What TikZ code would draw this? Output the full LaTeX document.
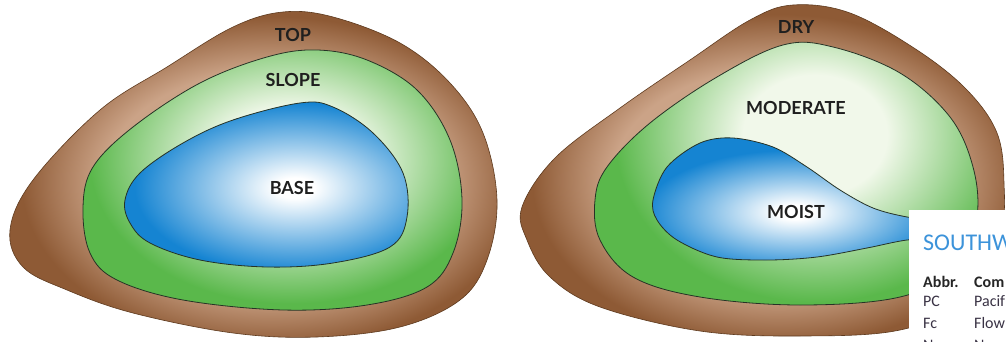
\documentclass[tikz,border=0pt]{standalone}
\usepackage{fontspec}
\setmainfont{Lato}
\newfontfamily\tabfont{Carlito}
\definecolor{soilbrown}{HTML}{8E5A35}
\definecolor{soiltan}{HTML}{CBA387}
\definecolor{leafgreen}{HTML}{5AB84B}
\definecolor{leafpale}{HTML}{F1F8EA}
\definecolor{waterblue}{HTML}{1584D2}
\definecolor{edgeline}{HTML}{263326}
\definecolor{soilline}{HTML}{5E3A1E}
\definecolor{titleblue}{HTML}{3C93DA}
\definecolor{tabtext}{HTML}{3A3345}
\pgfdeclareradialshading{soilshade}{\pgfpoint{0bp}{0bp}}{color(0bp)=(soiltan); color(11.3bp)=(soiltan); color(16.7bp)=(soilbrown); color(50bp)=(soilbrown)}
\pgfdeclareradialshading{leafshade}{\pgfpoint{0bp}{0bp}}{color(0bp)=(leafpale); color(6bp)=(leafpale); color(16.7bp)=(leafgreen); color(50bp)=(leafgreen)}
\pgfdeclareradialshading{watershade}{\pgfpoint{0bp}{0bp}}{color(0bp)=(white); color(2bp)=(white); color(16.7bp)=(waterblue); color(50bp)=(waterblue)}
\tikzset{
  soilzone/.style={draw=soilline, line width=0.6pt},
  leafzone/.style={draw=edgeline, line width=0.8pt},
  waterzone/.style={draw=edgeline, line width=0.8pt},
  zonelabel/.style={font=\bfseries\fontsize{18}{18}\selectfont, text=black!88, inner sep=0pt},
  tabtitle/.style={font=\tabfont\fontsize{24}{24}\selectfont, text=titleblue, inner sep=0pt, anchor=base west},
  tabhead/.style={font=\tabfont\bfseries\fontsize{16}{16}\selectfont, text=black!85, inner sep=0pt, anchor=base west},
  tabcell/.style={font=\tabfont\fontsize{16}{16}\selectfont, text=tabtext, inner sep=0pt, anchor=base west},
}
\begin{document}
\begin{tikzpicture}[x=1pt,y=-1pt]
\useasboundingbox (0,0) rectangle (1006,342);
\clip (0,0) rectangle (1006,342);
\fill[white] (0,0) rectangle (1006,342);

% ---------- left diagram ----------
\path[soilzone, path picture={\shade[shading=soilshade] (272,182) ellipse [x radius=375pt, y radius=248pt];}]
  plot[smooth cycle, tension=0.6] coordinates {(10,230) (33,180) (100,110) (167,67) (233,27) (283,12) (333,17) (400,43) (450,83) (483,133) (497,200) (487,260) (460,300) (400,327) (317,337) (233,333) (133,313) (67,290) (23,267)};
\path[leafzone, path picture={\shade[shading=leafshade] (290,160) ellipse [x radius=300pt, y radius=215pt];}]
  plot[smooth cycle, tension=0.6] coordinates {(83,207) (93,167) (133,127) (200,83) (267,57) (317,50) (367,60) (417,90) (450,140) (462,200) (453,253) (427,287) (367,305) (283,310) (183,300) (117,280) (90,253)};
\path[waterzone, path picture={\shade[shading=watershade] (295,188) ellipse [x radius=240pt, y radius=128pt];}]
  plot[smooth cycle, tension=0.6] coordinates {(125,200) (140,173) (183,143) (233,120) (300,103) (333,107) (373,133) (403,173) (407,217) (390,247) (333,263) (267,267) (200,260) (150,243) (130,223)};
\node[zonelabel] (top) at (293,35) {TOP};
\node[zonelabel] (slope) at (293,80) {SLOPE};
\node[zonelabel] (base) at (292,188) {BASE};

% ---------- right diagram ----------
\path[soilzone, path picture={\shade[shading=soilshade] (778,180) ellipse [x radius=368pt, y radius=248pt];}]
  plot[smooth cycle, tension=0.6] coordinates {(522,207) (555,158) (620,108) (690,60) (750,20) (793,5) (850,13) (917,50) (967,90) (997,133) (1004,183) (1000,233) (967,300) (900,330) (800,336) (700,331) (600,307) (550,277) (527,240)};
\path[leafzone, path picture={\shade[shading=leafshade] (815,135) ellipse [x radius=300pt, y radius=250pt];}]
  plot[smooth cycle, tension=0.6] coordinates {(595,200) (607,167) (650,123) (717,77) (783,45) (833,47) (900,73) (950,117) (973,167) (977,217) (960,267) (900,297) (800,305) (700,297) (633,277) (600,240)};
\path[waterzone, path picture={\shade[shading=watershade] (795,212) ellipse [x radius=225pt, y radius=93pt];}]
  plot[smooth cycle, tension=0.55] coordinates {(653,200) (667,167) (700,143) (733,138) (773,147) (807,167) (840,190) (873,208) (907,217) (945,222) (960,230) (945,238) (907,240) (867,248) (817,257) (767,260) (717,257) (677,240) (657,220)};
\node[zonelabel] (dry) at (796,27) {DRY};
\node[zonelabel] (moderate) at (796,108) {MODERATE};
\node[zonelabel] (moist) at (796,212) {MOIST};

% ---------- legend panel ----------
\fill[white] (909,210) rectangle (1006,342);
\node[tabtitle] (title) at (923,250) {SOUTHW};
\node[tabhead] (abbr) at (923,287) {Abbr.};
\node[tabhead] (com) at (974,287) {Com};
\node[tabcell] (pc) at (923,306) {PC};
\node[tabcell] (pacif) at (974,306) {Pacif};
\node[tabcell] (fc) at (923,328) {Fc};
\node[tabcell] (flow) at (974,328) {Flow};
\node[tabcell] (nu) at (923,350) {Nu};
\node[tabcell] (near) at (974,350) {Near};
\end{tikzpicture}
\end{document}
